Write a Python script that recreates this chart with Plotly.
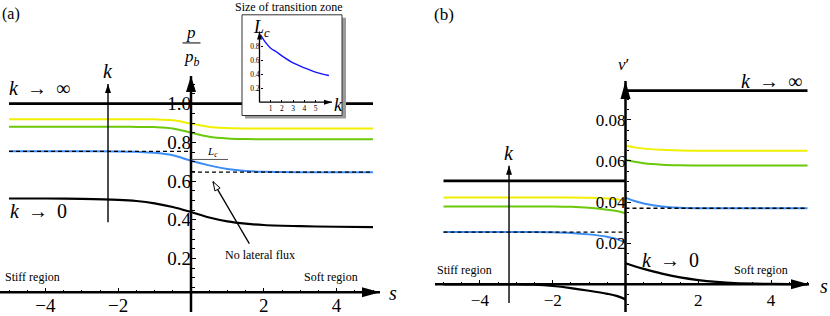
import math
import plotly.graph_objects as go

W, H = 830, 316
FONT = "Liberation Serif"

# ---------------- data: panel (a)  p/p_b versus s ----------------
s_a = [-5, -4, -3, -2, -1.5, -1, -0.5, 0, 0.5, 1, 1.5, 2, 3, 4, 5]
p_yellow = [0.920, 0.920, 0.920, 0.920, 0.920, 0.919, 0.914, 0.897, 0.880, 0.874, 0.872, 0.872, 0.872, 0.872, 0.872]
p_green = [0.881, 0.881, 0.881, 0.881, 0.880, 0.879, 0.872, 0.850, 0.829, 0.820, 0.817, 0.816, 0.816, 0.816, 0.816]
p_blue = [0.754, 0.754, 0.754, 0.753, 0.751, 0.746, 0.733, 0.705, 0.681, 0.662, 0.652, 0.648, 0.646, 0.646, 0.646]
p_kzero = [0.510, 0.510, 0.508, 0.503, 0.497, 0.485, 0.466, 0.440, 0.412, 0.392, 0.380, 0.373, 0.367, 0.364, 0.362]
s_a_full = [-5, 5]
p_kinf = [1.0, 1.0]
s_a_left = [-5, 0]
s_a_right = [0, 5]
p_nolat_left = [0.754, 0.754]
p_nolat_right = [0.646, 0.646]

# ---------------- data: panel (b)  v' versus s ----------------
s_bl = [-5, -4, -3, -2.5, -2, -1.5, -1, -0.5, -0.25, 0]
s_br = [0, 0.25, 0.5, 1, 1.5, 2, 2.5, 3, 4, 5]
v_yel_l = [0.0422, 0.0422, 0.0422, 0.0422, 0.0422, 0.0422, 0.0421, 0.0418, 0.0414, 0.0406]
v_yel_r = [0.0675, 0.0666, 0.0660, 0.0654, 0.0651, 0.0650, 0.0650, 0.0650, 0.0650, 0.0650]
v_grn_l = [0.0379, 0.0379, 0.0379, 0.0379, 0.0379, 0.0377, 0.0372, 0.0363, 0.0357, 0.0346]
v_grn_r = [0.0606, 0.0596, 0.0589, 0.0582, 0.0579, 0.0578, 0.0578, 0.0578, 0.0578, 0.0578]
v_blu_l = [0.0254, 0.0254, 0.0254, 0.0254, 0.0253, 0.0250, 0.0243, 0.0231, 0.0221, 0.0202]
v_blu_r = [0.0422, 0.0405, 0.0393, 0.0378, 0.0372, 0.0370, 0.0370, 0.0370, 0.0370, 0.0370]
v_zero_l = [0.0, 0.0, 0.0, -0.0002, -0.0008, -0.0018, -0.0031, -0.0046, -0.0056, -0.0073]
v_zero_r = [0.0103, 0.0088, 0.0075, 0.0052, 0.0034, 0.0021, 0.0012, 0.0006, 0.0002, 0.0]
s_b_left = [-5, 0]
s_b_right = [0, 5]
v_inf_l = [0.0503, 0.0503]
v_inf_r = [0.0942, 0.0942]
v_nolat_l = [0.0254, 0.0254]
v_nolat_r = [0.0370, 0.0370]

# ---------------- data: inset  L_c versus k ----------------
k_in = [0.1, 0.5, 1, 1.5, 2, 3, 4, 5, 6.2]
Lc_in = [0.96, 0.86, 0.77, 0.72, 0.66, 0.56, 0.49, 0.43, 0.38]

# tick labels
xa_ticks = [-4, -2, 2, 4]
xa_text = ["\u22124", "\u22122", "2", "4"]
ya_ticks = [0.2, 0.4, 0.6, 0.8, 1.0]
ya_text = ["0.2", "0.4", "0.6", "0.8", "1.0"]
yb_ticks = [0.02, 0.04, 0.06, 0.08]
yb_text = ["0.02", "0.04", "0.06", "0.08"]
xi_ticks = [1, 2, 3, 4, 5]
yi_ticks = [0.2, 0.4, 0.6, 0.8]
yi_text = ["0.2", "0.4", "0.6", "0.8"]

YEL, GRN, BLU = "#f0f000", "#6cc80a", "#3b8cf5"

# ---------------- geometry (pixel layout) ----------------
A_X0, A_SX = 191.0, 36.4          # pixel of s=0, px per unit
A_PY1, A_SY = 105.0, 196.0        # pixel of p=1, px per unit
B_X0, B_SX = 625.5, 36.4
B_PY0, B_SY = 288.0, 2083.0
I_L, I_R, I_T, I_B = 240.0, 347.0, 13.0, 121.0
I_X0, I_SX = 259.5, 11.2
I_PY0, I_SY = 103.5, 71.0

def ax_s(px): return (px - A_X0) / A_SX
def ay_p(py): return 1 - (py - A_PY1) / A_SY
def bx_s(px): return (px - B_X0) / B_SX
def by_v(py): return (B_PY0 - py) / B_SY
def ix_k(px): return (px - I_X0) / I_SX
def iy_L(py): return (I_PY0 - py) / I_SY
def PX(px): return px / W
def PY(py): return 1 - py / H

fig = go.Figure()

def line(x, y, color, width, xa, ya, dash=None, shape="spline"):
    fig.add_trace(go.Scatter(x=x, y=y, mode="lines", xaxis=xa, yaxis=ya,
                             line=dict(color=color, width=width, dash=dash, shape=shape),
                             hoverinfo="skip", showlegend=False))

# panel a curves
line(s_a_full, p_kinf, "black", 2.6, "x", "y", shape="linear")
line(s_a, p_yellow, YEL, 2, "x", "y")
line(s_a, p_green, GRN, 2, "x", "y")
line(s_a, p_blue, BLU, 2, "x", "y")
line(s_a_left, p_nolat_left, "black", 1.3, "x", "y", dash="4px,3px", shape="linear")
line(s_a_right, p_nolat_right, "black", 1.3, "x", "y", dash="4px,3px", shape="linear")
line(s_a, p_kzero, "black", 2.2, "x", "y")

# panel b curves
line(s_b_left, v_inf_l, "black", 2.6, "x2", "y2", shape="linear")
line(s_b_right, v_inf_r, "black", 2.6, "x2", "y2", shape="linear")
for vl, vr, c in [(v_yel_l, v_yel_r, YEL), (v_grn_l, v_grn_r, GRN), (v_blu_l, v_blu_r, BLU)]:
    line(s_bl, vl, c, 2, "x2", "y2")
    line(s_br, vr, c, 2, "x2", "y2")
line(s_b_left, v_nolat_l, "black", 1.3, "x2", "y2", dash="4px,3px", shape="linear")
line(s_b_right, v_nolat_r, "black", 1.3, "x2", "y2", dash="4px,3px", shape="linear")
line(s_bl, v_zero_l, "black", 2.2, "x2", "y2")
line(s_br, v_zero_r, "black", 2.2, "x2", "y2")

# inset curve
line(k_in, Lc_in, "#1414ff", 1.4, "x3", "y3")

shapes = []

def arrow(xref, yref, x0, y0, x1, y1, lw, hl, hw, dirx, diry, layer="above",
          fill="black", outline=0):
    """Line plus triangular head; (dirx, diry) = pointing direction in screen px, y up."""
    n = math.hypot(dirx, diry)
    ux, uy = dirx / n, diry / n
    shapes.append(dict(type="line", xref=xref, yref=yref, x0=x0, y0=y0, x1=x1, y1=y1,
                       line=dict(color="black", width=lw), layer=layer))
    px_, py_ = -uy, ux
    bx, by = -hl * ux, -hl * uy
    path = (f"M0,0 L{bx + px_ * hw / 2:.2f},{by + py_ * hw / 2:.2f} "
            f"L{bx - px_ * hw / 2:.2f},{by - py_ * hw / 2:.2f} Z")
    shapes.append(dict(type="path", xref=xref, yref=yref, xsizemode="pixel", ysizemode="pixel",
                       xanchor=x1, yanchor=y1, path=path, fillcolor=fill,
                       line=dict(width=outline, color="black"), layer=layer))

# panel a axes
a_xaxis_y = ay_p(296)
arrow("x", "y", ax_s(0), a_xaxis_y, ax_s(380), a_xaxis_y, 2.5, 18, 10, 1, 0)
arrow("x", "y", 0, ay_p(316), 0, ay_p(77), 2.5, 16, 10, 0, 1)
# k arrow a
arrow("x", "y", -2.28, ay_p(225), -2.28, ay_p(85), 1.4, 9, 6, 0, 1)
# panel b axes
arrow("x2", "y2", bx_s(435), 0, bx_s(809), 0, 2.5, 18, 10, 1, 0)
arrow("x2", "y2", 0, by_v(316), 0, by_v(82), 2.5, 18, 10, 0, 1)
arrow("x2", "y2", -3.2, by_v(307), -3.2, by_v(168), 1.4, 9, 6, 0, 1)
# no lateral flux arrow (hollow head)
arrow("x", "y", ax_s(249.3), ay_p(246.7), ax_s(213), ay_p(184), 1.3, 9, 6,
      213 - 249.3, 246.7 - 184, fill="white", outline=1)

# inset frame (drawn in the inset subplot layer, above panel a traces)
shapes.append(dict(type="rect", xref="x3", yref="y3", layer="below",
                   x0=ix_k(245), x1=ix_k(346), y0=iy_L(120), y1=iy_L(18),
                   fillcolor="#9a9a9a", line=dict(width=0)))
shapes.append(dict(type="rect", xref="x3", yref="y3", layer="below",
                   x0=ix_k(242), x1=ix_k(342), y0=iy_L(117), y1=iy_L(15),
                   fillcolor="white", line=dict(color="#333333", width=1)))
arrow("x3", "y3", 0, 0, ix_k(332), 0, 1.3, 8, 5, 1, 0)
arrow("x3", "y3", 0, 0, 0, iy_L(32), 1.3, 8, 5, 0, 1)

# L_c marker line and fraction bar
shapes.append(dict(type="line", xref="x", yref="y", x0=0, x1=ax_s(228), y0=ay_p(161.5), y1=ay_p(161.5),
                   line=dict(color="#444444", width=0.9)))
shapes.append(dict(type="line", xref="paper", yref="paper", x0=PX(182.5), x1=PX(200.5),
                   y0=PY(43.5), y1=PY(43.5), line=dict(color="black", width=1)))

annotations = []
def txt(text, x, y, size, xanchor="center", yanchor="middle", xref="paper", yref="paper"):
    annotations.append(dict(text=text, x=x, y=y, xref=xref, yref=yref, showarrow=False,
                            xanchor=xanchor, yanchor=yanchor,
                            font=dict(family=FONT, size=size, color="black")))

ARR_INF = "<i>k</i>\u2009 \u2192 \u2009\u221e"
ARR_ZERO = "<i>k</i>\u2009 \u2192 \u20090"
txt("(a)", PX(11), PY(14), 16)
txt("(b)", PX(444), PY(15), 17)
txt("Size of transition zone", PX(289), PY(7), 12)
txt(ARR_INF, PX(39), PY(89), 20)
txt(ARR_ZERO, PX(38), PY(214), 20)
txt("<i>k</i>", PX(108), PY(72), 20)
txt("<i>p</i>", PX(191), PY(33), 17)
txt("<i>p</i><sub><i>b</i></sub>", PX(192), PY(59), 17)
txt("<i>L</i><sub><i>c</i></sub>", PX(212), PY(154), 11)
txt("No lateral flux", PX(260), PY(258), 12)
txt("Stiff region", PX(3), PY(281), 12, xanchor="left")
txt("Soft region", PX(360), PY(281), 12, xanchor="right")
txt("<i>s</i>", PX(393), PY(297), 20)
txt(ARR_INF, PX(771), PY(82), 20)
txt(ARR_ZERO, PX(670), PY(263), 20)
txt("<i>k</i>", PX(509), PY(155), 20)
txt("<i>\u03bd</i>\u2032", PX(623), PY(65), 17)
txt("Stiff region", PX(435), PY(273), 12, xanchor="left")
txt("Soft region", PX(790), PY(273), 12, xanchor="right")
txt("<i>s</i>", PX(824), PY(290), 20)
txt("<i>L</i><sub><i>c</i></sub>", PX(261), PY(29), 18)
txt("<i>k</i>", PX(338), PY(106), 18)

tick_font_a = dict(family=FONT, size=19, color="black")
tick_font_b = dict(family=FONT, size=17, color="black")

minor_x = [v / 2 for v in range(-10, 11) if v % 4 != 0]
minor_ya = [round(v * 0.05, 3) for v in range(1, 23) if v % 4 != 0]
minor_yb = [round(v * 0.005, 4) for v in range(-2, 19) if v % 4 != 0]

common = dict(showgrid=False, zeroline=False, showline=False, ticks="inside",
              tickcolor="black", tickwidth=1.3, ticklen=4, tickmode="array", anchor="free")
minor_style = dict(ticks="inside", ticklen=2.5, tickwidth=1.3, tickcolor="black")
inset_font = dict(family=FONT, size=7.5, color="black")

fig.update_layout(
    width=W, height=H, autosize=False,
    margin=dict(l=0, r=0, t=0, b=0),
    paper_bgcolor="white", plot_bgcolor="rgba(0,0,0,0)",
    showlegend=False,
    xaxis=dict(domain=[0, 415 / W], range=[ax_s(0), ax_s(415)], position=PY(296),
               tickvals=xa_ticks, ticktext=xa_text, tickfont=tick_font_a,
               minor=dict(tickvals=minor_x, **minor_style), **common),
    yaxis=dict(domain=[0, 1], range=[ay_p(316), ay_p(0)], position=PX(A_X0),
               tickvals=ya_ticks, ticktext=ya_text, tickfont=tick_font_a,
               minor=dict(tickvals=minor_ya, **minor_style), **common),
    xaxis2=dict(domain=[415 / W, 1], range=[bx_s(415), bx_s(830)], position=PY(B_PY0),
                tickvals=xa_ticks, ticktext=xa_text, tickfont=tick_font_b, ticklabelstandoff=4,
                minor=dict(tickvals=minor_x, **minor_style), **common),
    yaxis2=dict(domain=[0, 1], range=[by_v(316), by_v(0)], position=PX(B_X0),
                tickvals=yb_ticks, ticktext=yb_text, tickfont=tick_font_b,
                minor=dict(tickvals=minor_yb, **minor_style), **common),
    xaxis3=dict(domain=[PX(I_L), PX(I_R)], range=[ix_k(I_L), ix_k(I_R)], position=PY(I_PY0),
                tickvals=xi_ticks, tickfont=inset_font,
                showgrid=False, zeroline=False, showline=False, ticks="inside", ticklen=2,
                tickwidth=0.8, tickcolor="black", tickmode="array", anchor="free"),
    yaxis3=dict(domain=[PY(I_B), PY(I_T)], range=[iy_L(I_B), iy_L(I_T)], position=PX(I_X0),
                tickvals=yi_ticks, ticktext=yi_text, tickfont=inset_font,
                showgrid=False, zeroline=False, showline=False, ticks="inside", ticklen=2,
                tickwidth=0.8, tickcolor="black", tickmode="array", anchor="free"),
    shapes=shapes,
    annotations=annotations,
)

fig.write_html("out.html", config={"displayModeBar": False},
               post_script="document.body.style.margin='0px';document.body.style.overflow='hidden';")
